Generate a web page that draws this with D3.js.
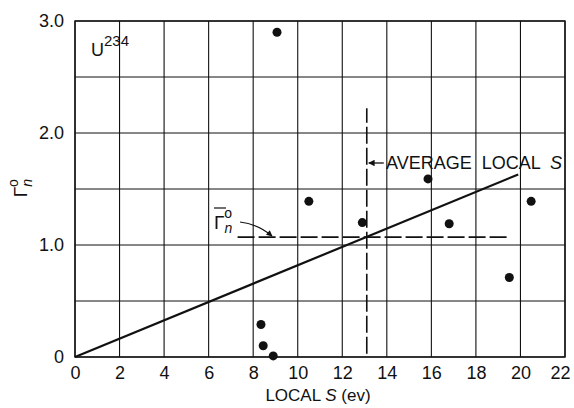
<!DOCTYPE html>
<html><head><meta charset="utf-8">
<script src="https://cdn.jsdelivr.net/npm/d3@7"></script>
<style>body{margin:0;background:#fff}svg{display:block}text{font-family:"Liberation Sans",Arial,sans-serif;fill:#111;white-space:pre}</style>
</head><body><svg id="c" width="574" height="408"></svg>
<script>
const xTicks = [0,2,4,6,8,10,12,14,16,18,20,22];
const yTicks = [0,1,2,3];
const yTickLabels = ["0","1.0","2.0","3.0"];
const yGrid = [0,0.5,1,1.5,2,2.5,3];
const pointsX = [9.07,10.5,12.9,15.85,16.8,20.48,19.5,8.35,8.45,8.9];
const pointsY = [2.90,1.39,1.20,1.59,1.19,1.39,0.71,0.29,0.10,0.01];
const fitLineX = [0,19.9];
const fitLineY = [0,1.63];
const avgS = 13.1;
const avgSRange = [0.03,2.22];
const avgGamma = 1.07;
const avgGammaRange = [7.3,19.4];

const svg = d3.select("#c");
const m = {l:75,r:9,t:21,b:51};
const W = 574, H = 408;
const x = d3.scaleLinear().domain([0,22]).range([m.l, W-m.r]);
const y = d3.scaleLinear().domain([0,3]).range([H-m.b, m.t]);
const ink = "#111";

// grid
svg.append("g").selectAll("line").data(xTicks).join("line")
  .attr("x1",d=>x(d)).attr("x2",d=>x(d)).attr("y1",y(0)).attr("y2",y(3))
  .attr("stroke",ink).attr("stroke-width",1.1);
svg.append("g").selectAll("line").data(yGrid).join("line")
  .attr("y1",d=>y(d)).attr("y2",d=>y(d)).attr("x1",x(0)).attr("x2",x(22))
  .attr("stroke",ink).attr("stroke-width",1.1);
svg.append("rect").attr("x",x(0)).attr("y",y(3)).attr("width",x(22)-x(0)).attr("height",y(0)-y(3))
  .attr("fill","none").attr("stroke",ink).attr("stroke-width",1.4);

// axes (labels only)
const xAxis = d3.axisBottom(x).tickValues(xTicks).tickSize(0).tickPadding(9).tickFormat(d3.format("d"));
const gx = svg.append("g").attr("transform",`translate(0,${y(0)})`).call(xAxis);
gx.select(".domain").remove();
gx.selectAll("text").style("font-size","18px").attr("fill",ink)
  .attr("dx",d=>d===22?-5:0);
const yAxis = d3.axisLeft(y).tickValues(yTicks).tickSize(0).tickPadding(11).tickFormat((d,i)=>yTickLabels[i]);
const gy = svg.append("g").attr("transform",`translate(${x(0)},0)`).call(yAxis);
gy.select(".domain").remove();
gy.selectAll("text").style("font-size","18px").attr("fill",ink);

// axis titles
const xt = svg.append("text").attr("x",318).attr("y",401).attr("text-anchor","middle").style("font-size","17px");
xt.append("tspan").text("LOCAL ");
xt.append("tspan").attr("font-style","italic").text("S");
xt.append("tspan").text(" (ev)");
const yt = svg.append("text").attr("transform","translate(27,188) rotate(-90)").attr("text-anchor","middle").style("font-size","19px");
yt.append("tspan").text("Γ");
yt.append("tspan").attr("font-style","italic").attr("dy",5).style("font-size","14px").text("n");
yt.append("tspan").attr("dy",-14).attr("dx",-8).style("font-size","14px").text("o");

// U234
const ut = svg.append("text").attr("x",91).attr("y",56).style("font-size","18px");
ut.append("tspan").text("U");
ut.append("tspan").attr("dy",-10).style("font-size","15px").text("234");

// fit line
svg.append("line").attr("x1",x(fitLineX[0])).attr("y1",y(fitLineY[0])).attr("x2",x(fitLineX[1])).attr("y2",y(fitLineY[1]))
  .attr("stroke",ink).attr("stroke-width",2.2);

// dashed average lines
svg.append("line").attr("x1",x(avgS)).attr("x2",x(avgS)).attr("y1",y(avgSRange[0])).attr("y2",y(avgSRange[1]))
  .attr("stroke",ink).attr("stroke-width",1.6).attr("stroke-dasharray","17,4");
svg.append("line").attr("y1",y(avgGamma)).attr("y2",y(avgGamma)).attr("x1",x(avgGammaRange[0])).attr("x2",x(avgGammaRange[1]))
  .attr("stroke",ink).attr("stroke-width",1.6).attr("stroke-dasharray","17,4");

// points
svg.append("g").selectAll("circle").data(pointsX).join("circle")
  .attr("cx",d=>x(d)).attr("cy",(d,i)=>y(pointsY[i])).attr("r",4.5).attr("fill",ink);

// arrows
svg.append("defs").append("marker").attr("id","ah").attr("viewBox","0 0 10 10").attr("refX",9).attr("refY",5)
  .attr("markerWidth",7).attr("markerHeight",5).attr("orient","auto-start-reverse")
  .append("path").attr("d","M0,0 L10,5 L0,10 z").attr("fill",ink);
svg.append("line").attr("x1",x(avgS)+17).attr("y1",163).attr("x2",x(avgS)+2).attr("y2",163)
  .attr("stroke",ink).attr("stroke-width",1.3).attr("marker-end","url(#ah)");
const al = svg.append("text").attr("x",386).attr("y",169).style("font-size","18px");
al.append("tspan").text("AVERAGE  LOCAL  ");
al.append("tspan").attr("font-style","italic").text("S");

// Gamma-bar label
const gl = svg.append("text").attr("x",214).attr("y",229).style("font-size","19px");
gl.append("tspan").text("Γ");
gl.append("tspan").attr("font-style","italic").attr("dy",4).style("font-size","14px").text("n");
gl.append("tspan").attr("dy",-15).attr("dx",-8).style("font-size","14px").text("o");
svg.append("line").attr("x1",214).attr("x2",226).attr("y1",208).attr("y2",208).attr("stroke",ink).attr("stroke-width",1.2);
svg.append("path").attr("d","M240,222 Q258,224 272,236").attr("fill","none").attr("stroke",ink).attr("stroke-width",1.2).attr("marker-end","url(#ah)");
</script></body></html>
